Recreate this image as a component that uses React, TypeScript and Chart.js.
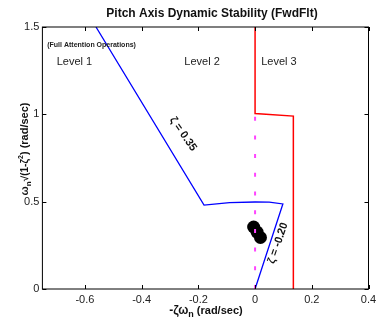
import React, { useEffect, useRef } from 'react';
import { Chart, registerables } from 'chart.js';

Chart.register(...registerables);

// ---- data ----
const xTicks = [-0.6, -0.4, -0.2, 0, 0.2, 0.4];
const yTicks = [0, 0.5, 1, 1.5];
const boundary12X = [-0.561, -0.18, -0.09, 0, 0.05, 0.098, 0];
const boundary12Y = [1.5, 0.48, 0.495, 0.498, 0.497, 0.487, 0];
const boundary23X = [0, 0, 0.135, 0.135];
const boundary23Y = [1.5, 1.005, 0.99, 0];
const axisRefX = [0, 0];
const axisRefY = [0, 1.0];
const polesX = [-0.005, 0.007, 0.019];
const polesY = [0.355, 0.326, 0.295];
const levelLabels = ['Level 1', 'Level 2', 'Level 3'];
const levelLabelX = [-0.637, -0.187, 0.084];
const levelLabelY = 1.302;
const noteText = '(Full Attention Operations)';
const titleText = 'Pitch Axis Dynamic Stability (FwdFlt)';

const FONT = '"Liberation Sans", Arial, Helvetica, sans-serif';

const pts = (xs: number[], ys: number[]) => xs.map((x, i) => ({ x, y: ys[i] }));

type Part = { t: string; size: number; dy?: number };

function drawRich(ctx: CanvasRenderingContext2D, parts: Part[], x: number, y: number) {
  let total = 0;
  for (const p of parts) {
    ctx.font = `bold ${p.size}px ${FONT}`;
    total += ctx.measureText(p.t).width;
  }
  let cx = x - total / 2;
  ctx.textAlign = 'left';
  ctx.textBaseline = 'alphabetic';
  for (const p of parts) {
    ctx.font = `bold ${p.size}px ${FONT}`;
    ctx.fillText(p.t, cx, y + (p.dy || 0));
    cx += ctx.measureText(p.t).width;
  }
}

const decorPlugin = {
  id: 'decor',
  afterDatasetsDraw(chart: any) {
    const { ctx, chartArea: a, scales } = chart;
    const xs = scales.x;
    const ys = scales.y;
    ctx.save();
    // frame
    ctx.strokeStyle = '#000';
    ctx.lineWidth = 1;
    ctx.strokeRect(a.left, a.top, a.right - a.left, a.bottom - a.top);
    // inward ticks
    const tl = 4;
    ctx.beginPath();
    for (const v of xTicks) {
      const px = Math.round(xs.getPixelForValue(v)) + 0.5;
      ctx.moveTo(px, a.bottom);
      ctx.lineTo(px, a.bottom - tl);
      ctx.moveTo(px, a.top);
      ctx.lineTo(px, a.top + tl);
    }
    for (const v of yTicks) {
      const py = Math.round(ys.getPixelForValue(v)) + 0.5;
      ctx.moveTo(a.left, py);
      ctx.lineTo(a.left + tl, py);
      ctx.moveTo(a.right, py);
      ctx.lineTo(a.right - tl, py);
    }
    ctx.stroke();

    ctx.fillStyle = '#111';
    // title
    ctx.font = `bold 12px ${FONT}`;
    ctx.textAlign = 'center';
    ctx.textBaseline = 'middle';
    ctx.fillText(titleText, 212, 14);

    // level labels
    ctx.fillStyle = '#222';
    ctx.font = `11px ${FONT}`;
    levelLabels.forEach((t, i) => {
      ctx.fillText(t, xs.getPixelForValue(levelLabelX[i]), ys.getPixelForValue(levelLabelY));
    });
    // note
    ctx.font = `bold 7px ${FONT}`;
    ctx.textAlign = 'left';
    ctx.fillText(noteText, xs.getPixelForValue(-0.733), ys.getPixelForValue(1.397));

    // zeta labels
    ctx.fillStyle = '#111';
    ctx.font = `bold 11px ${FONT}`;
    ctx.textAlign = 'center';
    ctx.save();
    ctx.translate(xs.getPixelForValue(-0.254), ys.getPixelForValue(0.887));
    ctx.rotate((55 * Math.PI) / 180);
    ctx.fillText('ζ = 0.35', 0, 0);
    ctx.restore();
    ctx.save();
    ctx.translate(xs.getPixelForValue(0.081), ys.getPixelForValue(0.263));
    ctx.rotate((-71 * Math.PI) / 180);
    ctx.fillText('ζ = -0.20', 0, 0);
    ctx.restore();

    // x axis title
    drawRich(
      ctx,
      [
        { t: '-ζω', size: 12 },
        { t: 'n', size: 9, dy: 3 },
        { t: ' (rad/sec)', size: 11 },
      ],
      206,
      314
    );
    // y axis title
    ctx.save();
    ctx.translate(28, 149);
    ctx.rotate(-Math.PI / 2);
    drawRich(
      ctx,
      [
        { t: 'ω', size: 11 },
        { t: 'n', size: 8, dy: 3 },
        { t: '√(1-ζ', size: 10 },
        { t: '2', size: 7, dy: -5 },
        { t: ') (rad/sec)', size: 11 },
      ],
      0,
      0
    );
    ctx.restore();
    ctx.restore();
  },
};

export default function App() {
  const ref = useRef<HTMLCanvasElement | null>(null);
  useEffect(() => {
    document.body.style.margin = '0';
    const canvas = ref.current!;
    const chart = new Chart(canvas, {
      type: 'scatter',
      data: {
        datasets: [
          {
            data: pts(axisRefX, axisRefY),
            showLine: true,
            borderColor: '#ff44ff',
            borderWidth: 2,
            borderDash: [4, 14.7],
            pointRadius: 0,
          },
          {
            data: pts(boundary12X, boundary12Y),
            showLine: true,
            borderColor: '#0000ff',
            borderWidth: 1.3,
            pointRadius: 0,
          },
          {
            data: pts(boundary23X, boundary23Y),
            showLine: true,
            borderColor: '#ff0000',
            borderWidth: 1.5,
            pointRadius: 0,
          },
          {
            data: pts(polesX, polesY),
            showLine: false,
            pointRadius: 6.5,
            pointBackgroundColor: '#000',
            pointBorderColor: '#000',
            pointBorderWidth: 0,
          },
        ],
      },
      options: {
        animation: false,
        responsive: false,
        devicePixelRatio: 1,
        layout: { padding: { left: 0, top: 27, right: 7.5, bottom: 0 } },
        plugins: { legend: { display: false }, tooltip: { enabled: false }, title: { display: false } },
        scales: {
          x: {
            type: 'linear',
            min: -0.75,
            max: 0.4,
            grid: { display: false, drawTicks: false },
            border: { display: false },
            afterBuildTicks: (s: any) => {
              s.ticks = xTicks.map((v) => ({ value: v }));
            },
            afterFit: (s: any) => {
              s.height = 38;
              s.paddingLeft = 0;
              s.paddingRight = 0;
            },
            ticks: {
              padding: 4,
              color: '#222',
              font: { family: FONT, size: 11 },
              callback: (v: any) => String(Number(v)),
              maxRotation: 0,
            },
          },
          y: {
            type: 'linear',
            min: 0,
            max: 1.5,
            grid: { display: false, drawTicks: false },
            border: { display: false },
            afterBuildTicks: (s: any) => {
              s.ticks = yTicks.map((v) => ({ value: v }));
            },
            afterFit: (s: any) => {
              s.width = 42.4;
              s.paddingTop = 0;
              s.paddingBottom = 0;
            },
            ticks: {
              padding: 3,
              color: '#222',
              font: { family: FONT, size: 11 },
              callback: (v: any) => String(Number(v)),
            },
          },
        },
      },
      plugins: [decorPlugin],
    });
    return () => chart.destroy();
  }, []);
  return (
    <div style={{ width: 376, height: 327, background: '#fff' }}>
      <canvas ref={ref} width={376} height={327} style={{ display: 'block', width: 376, height: 327 }} />
    </div>
  );
}
